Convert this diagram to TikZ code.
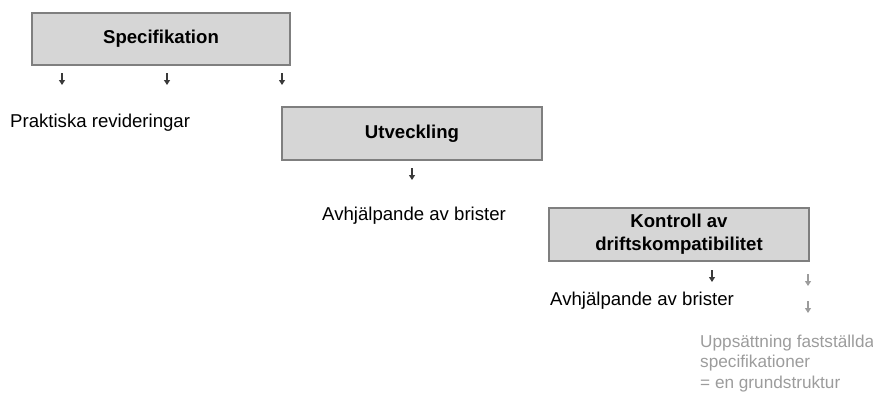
\documentclass[tikz,border=0pt]{standalone}
\usepackage{fontspec}
\setmainfont{Liberation Sans}
\usetikzlibrary{arrows.meta}

\definecolor{boxfill}{HTML}{D6D6D6}
\definecolor{boxline}{HTML}{7F7F7F}
\definecolor{tickcol}{HTML}{3A3A3A}
\definecolor{faint}{HTML}{9C9C9C}

\tikzset{
    stage/.style={draw=boxline, line width=1.3pt, fill=boxfill, minimum width=258pt, minimum height=52pt,
        align=center, font=\fontsize{18.6}{23}\selectfont\bfseries},
    note/.style={anchor=base west, inner sep=0pt, align=left, font=\fontsize{18.6}{20.5}\selectfont},
    tick/.style={tickcol, line width=1.1pt, -{Triangle[width=6pt,length=5pt]}},
}

\begin{document}
\begin{tikzpicture}[x=1pt, y=-1pt]
    \useasboundingbox (0,0) rectangle (873,392);

    % the three stages
    \node[stage] (spec) at (161,39) {Specifikation};
    \node[stage, minimum width=260pt, minimum height=53pt] (dev) at (412,133.5) {Utveckling};
    \node[stage, minimum width=260pt, minimum height=53pt] (check) at (679,234.5) {Kontroll av\\driftskompatibilitet};

    % outcomes
    \node[note] (rev) at (10,127) {Praktiska revideringar};
    \node[note] (fix1) at (322,220) {Avhjälpande av brister};
    \node[note] (fix2) at (550,305) {Avhjälpande av brister};
    % base anchor sits on the last line here
    \node[note, text=faint, font=\fontsize{17.2}{20.5}\selectfont] (base) at (700,388)
        {Uppsättning fastställda\\specifikationer\\= en grundstruktur};

    % small arrows under the boxes
    \foreach \x [count=\i] in {62,167,282} {
        \coordinate (s\i) at (\x,73);
        \coordinate (e\i) at (\x,85);
        \draw[tick] (s\i) -- (e\i);
    }
    \coordinate (dtop) at (412,168);
    \coordinate (dbot) at (412,180);
    \draw[tick] (dtop) -- (dbot);
    \coordinate (ctop) at (712,270);
    \coordinate (cbot) at (712,282);
    \draw[tick] (ctop) -- (cbot);

    % greyed arrows towards the baseline
    \coordinate (g1) at (808,274);
    \coordinate (g2) at (808,286);
    \coordinate (g3) at (808,301);
    \coordinate (g4) at (808,313);
    \draw[tick, faint] (g1) -- (g2);
    \draw[tick, faint] (g3) -- (g4);

\end{tikzpicture}
\end{document}
